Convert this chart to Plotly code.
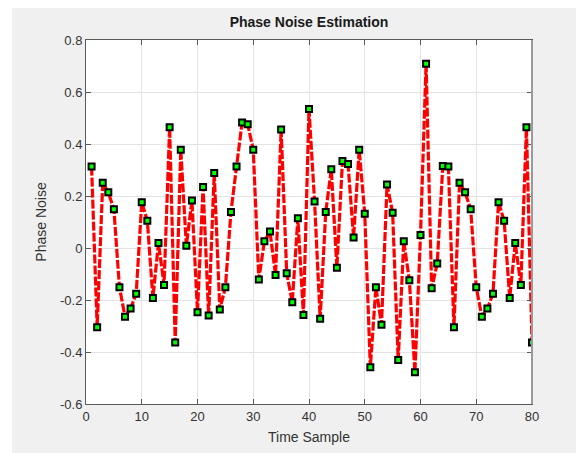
import plotly.graph_objects as go

# 估计的相位噪声
time_sample = list(range(1, 81))
phase_noise = [
    0.313, -0.305, 0.251, 0.214, 0.149, -0.151, -0.264, -0.233, -0.176, 0.176,
    0.105, -0.192, 0.019, -0.142, 0.464, -0.363, 0.378, 0.009, 0.183, -0.247,
    0.235, -0.260, 0.288, -0.237, -0.151, 0.138, 0.313, 0.483, 0.476, 0.378,
    -0.121, 0.026, 0.063, -0.104, 0.456, -0.097, -0.209, 0.114, -0.258, 0.535,
    0.179, -0.272, 0.138, 0.303, -0.076, 0.335, 0.323, 0.040, 0.378, 0.132,
    -0.459, -0.151, -0.295, 0.244, 0.136, -0.431, 0.026, -0.124, -0.478, 0.050,
    0.709, -0.155, -0.060, 0.315, 0.313, -0.305, 0.251, 0.214, 0.149, -0.151,
    -0.264, -0.233, -0.176, 0.176, 0.105, -0.192, 0.019, -0.142, 0.464, -0.363,
]
x_ticks = [0, 10, 20, 30, 40, 50, 60, 70, 80]
y_ticks = [-0.6, -0.4, -0.2, 0, 0.2, 0.4, 0.6, 0.8]
y_tick_text = ['-0.6', '-0.4', '-0.2', '0', '0.2', '0.4', '0.6', '0.8']

font = 'Liberation Sans, Arial, sans-serif'
axis_color = '#5a5a5a'

# 页面 body 自带 8px 边距，所以图要小一点
W, H = 576, 445
L, R, T, B = 78, 52, 32, 49
pw, ph = W - L - R, H - T - B

trace = go.Scatter(
    x=time_sample,
    y=phase_noise,
    mode='lines+markers',
    line=dict(color='#ff0000', width=3.2, dash='9px,2px'),
    marker=dict(symbol='square', size=6, color='#00ff00',
                line=dict(color='black', width=2)),
    hoverinfo='x+y',
)

fig = go.Figure(data=[trace])
fig.update_layout(
    width=W, height=H,
    margin=dict(l=L, r=R, t=T, b=B),
    paper_bgcolor='#f0f0f0',
    plot_bgcolor='white',
    showlegend=False,
    font=dict(family=font, size=13, color='#262626'),
    title=dict(text='<b>Phase Noise Estimation</b>', x=0.5, xref='paper',
               y=1 - 14 / H, yanchor='middle',
               font=dict(family=font, size=14, color='#1a1a1a')),
    # 左侧白边
    shapes=[
        dict(type='rect', xref='paper', yref='paper', x0=-0.3, x1=(4 - L) / pw,
             y0=-0.2, y1=1.2, fillcolor='white', line=dict(width=0), layer='below'),
        dict(type='line', xref='paper', yref='paper', x0=1, x1=1, y0=0, y1=1,
             line=dict(color='#9a9a9a', width=2)),
    ],
)
fig.update_xaxes(
    range=[0, 80], tickvals=x_ticks, ticks='inside', ticklen=5, tickcolor=axis_color,
    showgrid=True, gridcolor='#e3e3e3', gridwidth=1, zeroline=False,
    showline=True, linecolor=axis_color, linewidth=1, mirror='ticks',
    tickfont=dict(size=13, color='#333333'),
    title=dict(text='Time Sample', standoff=9, font=dict(size=14, color='#333333')),
)
fig.update_yaxes(
    range=[-0.6, 0.8], tickvals=y_ticks, ticktext=y_tick_text, ticks='inside',
    ticklen=5, tickcolor=axis_color,
    showgrid=True, gridcolor='#e3e3e3', gridwidth=1, zeroline=False,
    showline=True, linecolor=axis_color, linewidth=1, mirror='ticks',
    tickfont=dict(size=13, color='#333333'),
    title=dict(text='Phase Noise', standoff=10, font=dict(size=14, color='#333333')),
)
fig.write_html('out.html')
